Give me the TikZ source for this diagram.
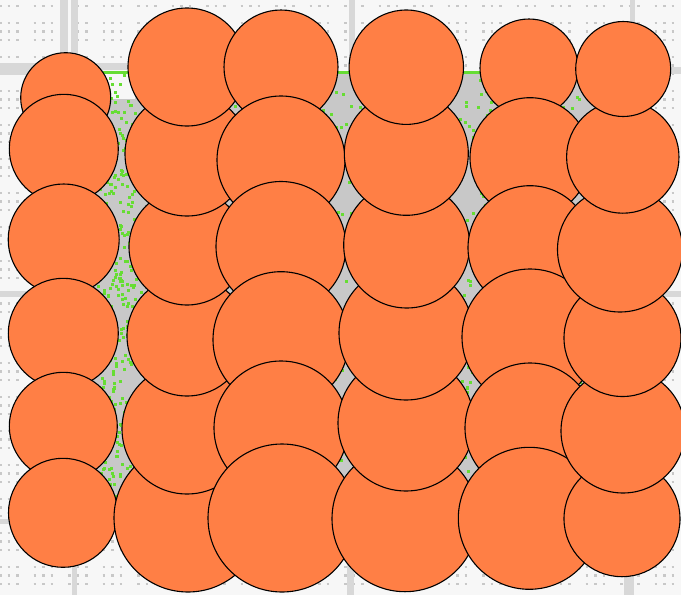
\documentclass[tikz,border=0pt]{standalone}
\definecolor{bgc}{HTML}{F7F7F7}
\definecolor{dotc}{HTML}{C8C8C8}
\definecolor{bandc}{HTML}{D8D8D8}
\definecolor{grayc}{HTML}{C8C8C8}
\definecolor{greenc}{HTML}{66DD33}
\definecolor{ballc}{HTML}{FF7F45}
\newcommand\myball[4]{\node[ball,minimum size=#4*2pt] (#1) at (#2,#3) {};}
\begin{document}
\begin{tikzpicture}[x=1pt,y=-1pt,
  ball/.style={circle,draw=black,fill=ballc,line width=1.1pt,inner sep=0pt,outer sep=0pt},
  band/.style={fill=bandc},
  gdot/.style={fill=greenc}]
\useasboundingbox (0,0) rectangle (681,595);
\clip (0,0) rectangle (681,595);
\fill[bgc] (0,0) rectangle (681,595);
% dotted background, in blocks
\foreach \r in {0,...,70} {
  \pgfmathtruncatemacro\m{mod(\r,4)}
  \ifnum\m=1\else
  \draw[dotc,line width=2.5pt,dash pattern=on 2.5pt off 6pt on 2.5pt off 6pt on 2.5pt off 15pt]
    (-1,{\r*8.5+6}) -- (681,{\r*8.5+6});
  \fi
}
% light bands
\fill[band] (60,0) rectangle (78,64);
\fill[bgc] (68,0) rectangle (71,64);
\fill[band] (0,63) rectangle (103,75);
\fill[band] (103,63) rectangle (135,70);
\fill[band] (349,0) rectangle (355,68);
\fill[band] (630,0) rectangle (635,68);
\fill[band] (655,67) rectangle (681,74);
\fill[band] (0,291) rectangle (681,297);
\fill[band] (0,519) rectangle (681,524);
\fill[band] (72,560) rectangle (77,595);
\fill[band] (347,560) rectangle (354,595);
\fill[band] (624,560) rectangle (634,595);
% gray region
\fill[grayc] (90,99) rectangle (600,530);
\fill[grayc] (135,73) rectangle (600,99);
\fill[bgc] (100,73) rectangle (135,99);
\fill[greenc] (103,70.5) rectangle (600,74);
\pgfmathsetseed{7}
\foreach \i in {1,...,380} {\fill[gdot] ({96+42*rnd},{74+456*rnd}) rectangle ++(3,3);}
\foreach \i in {1,...,1000} {\fill[gdot] ({138+462*rnd},{74+456*rnd}) rectangle ++(3,3);}
% column 1 (top to bottom)
\myball{c11}{65.7}{97.7}{45}
\myball{c12}{63.8}{148.8}{54.5}
\myball{c13}{63.7}{239.5}{55.5}
\myball{c14}{63.3}{333.3}{55}
\myball{c15}{63.3}{426.3}{54}
\myball{c16}{63}{512.8}{54.5}
% column 2 (bottom to top)
\myball{c26}{188}{518}{74}
\myball{c25}{187}{429}{65}
\myball{c24}{187}{336}{60}
\myball{c23}{187}{247}{58}
\myball{c22}{187}{154}{62}
\myball{c21}{187}{67}{59}
% column 3 (top to bottom)
\myball{c31}{281}{67}{57}
\myball{c32}{281}{160}{64}
\myball{c33}{281}{246.5}{65}
\myball{c34}{281}{339.7}{68}
\myball{c35}{281}{428}{67}
\myball{c36}{282}{518}{74}
% column 4 (bottom to top)
\myball{c46}{405}{518.7}{73}
\myball{c45}{406}{423}{68}
\myball{c44}{406}{333}{67}
\myball{c43}{406.7}{245}{63}
\myball{c42}{406.3}{153.3}{62}
\myball{c41}{406.3}{67.2}{57.2}
% column 5 (top to bottom)
\myball{c51}{529}{68}{49}
\myball{c52}{530}{157.7}{60}
\myball{c53}{530}{247.7}{62}
\myball{c54}{530}{337}{68}
\myball{c55}{530}{428}{65}
\myball{c56}{529.3}{518.3}{71}
% column 6 (bottom to top)
\myball{c66}{622}{518.7}{58}
\myball{c65}{623}{431}{62}
\myball{c64}{622.5}{338}{58.5}
\myball{c63}{620}{249.5}{62.5}
\myball{c62}{622.8}{157}{56.2}
\myball{c61}{623.2}{69}{47.5}
\end{tikzpicture}
\end{document}
